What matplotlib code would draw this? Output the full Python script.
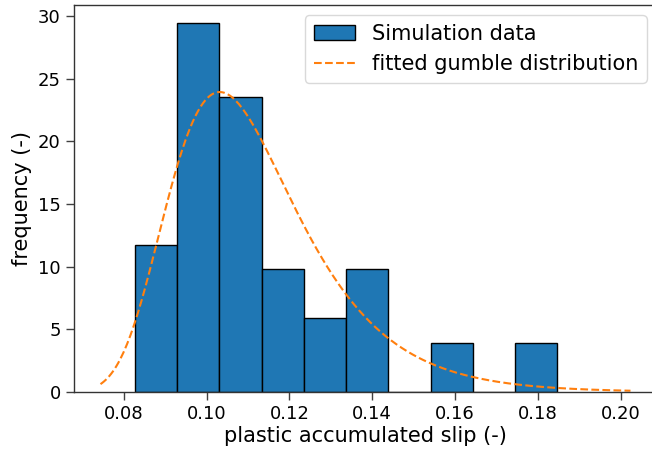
import numpy as np
import matplotlib
matplotlib.use("Agg")
import matplotlib.pyplot as plt

# histogram (density)
bin_edges = [0.0827, 0.0929, 0.1031, 0.1133, 0.1235, 0.1337,
             0.1439, 0.1541, 0.1643, 0.1745, 0.1847]
freq = [11.76, 29.41, 23.53, 9.80, 5.88, 9.80, 0.0, 3.92, 0.0, 3.92]

# fitted gumbel (right skewed) parameters
mu = 0.1032
beta = 0.01537
x_start = 0.0744
x_end = 0.2024

plt.rcParams['font.family'] = ['DejaVu Sans']

fig = plt.figure(figsize=(6.52, 4.5), dpi=100)
ax = fig.add_axes([74/652, 1-392/450, (657-74)/652, (392-5)/450])

centers = [(a+b)/2 for a, b in zip(bin_edges[:-1], bin_edges[1:])]
ax.hist(centers, bins=bin_edges, weights=freq, color='#1f77b4',
        edgecolor='black', linewidth=1, label='Simulation data')

x = np.linspace(x_start, x_end, 300)
z = (x - mu)/beta
pdf = np.exp(-(z + np.exp(-z)))/beta
ax.plot(x, pdf, '--', color='#ff7f0e', linewidth=1.5, label='fitted gumble distribution')

ax.set_xlabel('plastic accumulated slip (-)', fontsize=15, labelpad=2)
ax.set_ylabel('frequency (-)', fontsize=15, labelpad=4)
ax.set_xticks([0.08, 0.10, 0.12, 0.14, 0.16, 0.18, 0.20])
ax.set_yticks([0, 5, 10, 15, 20, 25, 30])
ax.tick_params(labelsize=13, length=6, width=1, color='0.25')
for s in ax.spines.values():
    s.set_color('0.2')
    s.set_linewidth(1)

ax.legend(loc='upper right', fontsize=15, framealpha=1, edgecolor='0.85',
          handlelength=2.0)

fig.savefig('out.png', dpi=100)
